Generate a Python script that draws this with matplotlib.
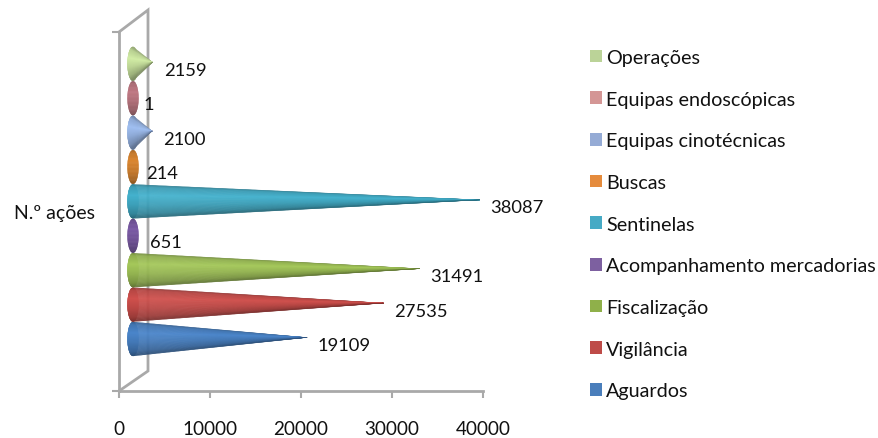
import numpy as np
import matplotlib
matplotlib.use("Agg")
import matplotlib.pyplot as plt
from matplotlib.collections import PolyCollection
from matplotlib.patches import Patch
from matplotlib.colors import to_rgb

categories = ["Aguardos", "Vigilância", "Fiscalização", "Acompanhamento mercadorias",
              "Sentinelas", "Buscas", "Equipas cinotécnicas", "Equipas endoscópicas", "Operações"]
values = [19109, 27535, 31491, 651, 38087, 214, 2100, 1, 2159]
cone_colors = ["#4277B5", "#BA4744", "#93B350", "#66478F", "#3C9FB8", "#C2711F", "#8FABD8", "#A8646E", "#BCD494"]
legend_colors = ["#4A7EBB", "#BE4B48", "#8FB04A", "#7D60A0", "#46AAC5", "#E58B3C", "#95ABD5", "#D49695", "#BBD398"]
x_ticks = [0, 10000, 20000, 30000, 40000]
axis_label = "N.º ações"

W, H = 879, 439
FONT = "Lato"
FS_DATA = 13.2
FS_TICK = 13.6
FS_LEG = 14.2
INK = "#111111"
GRAY = "#A9A9A9"

fig = plt.figure(figsize=(W / 100, H / 100), dpi=100)
L, R, T, B = 119, 483, 33, 392
ax = fig.add_axes([L / W, 1 - B / H, (R - L) / W, (B - T) / H])
px_x = 40000 / (R - L)      # data units per pixel, horizontal
px_y = 1 / 34.4             # category units per pixel, vertical
y0 = -(392 - 340) * px_y
ax.set_xlim(0, 40000)
ax.set_ylim(y0, y0 + (B - T) * px_y)
ylo, yhi = ax.get_ylim()

# 3D wall and floor outline
wall_x = 29 * px_x
ax.plot([0, wall_x, wall_x, 0], [ylo, ylo + 20 * px_y, yhi + 22 * px_y, yhi],
        color=GRAY, lw=2.0, clip_on=False, zorder=1, solid_joinstyle="miter")

# Cones drawn as shaded strips
base_cx = 14 * px_x
half_w = 5.5 * px_x
half_h = 17 * px_y
ts = np.linspace(-1, 1, 61)
shade_t = [-1, -0.85, -0.35, 0.25, 0.75, 1]
shade_f = [0.78, 0.98, 1.12, 1.0, 0.84, 0.66]


def shaded(color, t):
    f = np.interp(t, shade_t, shade_f)
    c = np.array(to_rgb(color))
    return tuple(np.clip(c * f, 0, 1))


for i, (v, col) in enumerate(zip(values, cone_colors)):
    tip = (base_cx + v, i + 1.5 * px_y)
    z = 2 + 0.01 * i
    # base ellipse as horizontal bands
    polys, cols = [], []
    for t1, t2 in zip(ts[:-1], ts[1:]):
        w1 = half_w * np.sqrt(max(0, 1 - t1 ** 2))
        w2 = half_w * np.sqrt(max(0, 1 - t2 ** 2))
        y1, y2 = i - t1 * half_h, i - t2 * half_h
        polys.append([(base_cx - w1, y1), (base_cx + w1, y1), (base_cx + w2, y2), (base_cx - w2, y2)])
        cols.append(shaded(col, (t1 + t2) / 2))
    ax.add_collection(PolyCollection(polys, facecolors=cols, edgecolors=cols, linewidths=0.2,
                                     clip_on=False, zorder=z))
    # cone body, only when it clearly emerges from the base
    if v > 2 * half_w:
        polys, cols = [], []
        for t1, t2 in zip(ts[:-1], ts[1:]):
            p1 = (base_cx - half_w * np.sqrt(max(0, 1 - t1 ** 2)), i - t1 * half_h)
            p2 = (base_cx - half_w * np.sqrt(max(0, 1 - t2 ** 2)), i - t2 * half_h)
            polys.append([p1, p2, tip])
            cols.append(shaded(col, (t1 + t2) / 2))
        ax.add_collection(PolyCollection(polys, facecolors=cols, edgecolors=cols, linewidths=0.2,
                                         clip_on=False, zorder=z))
    ax.text(v + 25 * px_x, i - 6 * px_y, str(v), family=FONT, fontsize=FS_DATA, color=INK,
            ha="left", va="center", zorder=5, clip_on=False)

# Axes
for s in ("top", "right"):
    ax.spines[s].set_visible(False)
for s in ("left", "bottom"):
    ax.spines[s].set_color(GRAY)
    ax.spines[s].set_linewidth(2.0)
    ax.spines[s].set_zorder(1)
ax.set_xticks(x_ticks)
ax.set_xticklabels([str(x) for x in x_ticks], family=FONT, fontsize=FS_TICK, color=INK)
ax.tick_params(axis="x", length=5, width=1.5, color=GRAY, pad=16)
ax.set_yticks([ylo, yhi])
ax.set_yticklabels(["", ""])
ax.tick_params(axis="y", which="major", length=5, width=1.5, color=GRAY)
ax.set_yticks([(ylo + yhi) / 2], minor=True)
ax.set_yticklabels([axis_label], minor=True, family=FONT, fontsize=FS_TICK + 0.4, color=INK)
ax.tick_params(axis="y", which="minor", length=0, pad=17)

# Legend
handles = [Patch(facecolor=c, edgecolor="none") for c in legend_colors[::-1]]
leg = fig.legend(handles, categories[::-1], loc="upper left",
                 bbox_to_anchor=(590 / W, 1 - 50 / H), bbox_transform=fig.transFigure,
                 frameon=False, prop={"family": FONT, "size": FS_LEG},
                 handlelength=0.6, handleheight=0.6, handletextpad=0.22,
                 labelspacing=1.25, borderpad=0.0, borderaxespad=0.0, labelcolor=INK)

fig.savefig("out.png", dpi=100)
